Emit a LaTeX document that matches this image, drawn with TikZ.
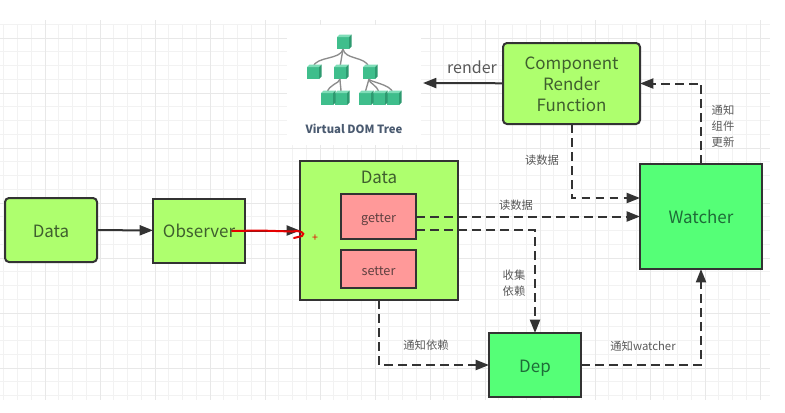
\documentclass[tikz,border=0pt]{standalone}
\usepackage{fontspec}
\setmainfont{Noto Sans CJK SC}
\usetikzlibrary{arrows.meta}
\definecolor{limebox}{HTML}{AEFF6E}
\definecolor{mintbox}{HTML}{55FF77}
\definecolor{pinkbox}{HTML}{FF9999}
\definecolor{edgeline}{HTML}{333333}
\definecolor{limetext}{HTML}{3F5F2E}
\definecolor{minttext}{HTML}{1E6B38}
\definecolor{pinktext}{HTML}{5F4040}
\definecolor{treetext}{HTML}{4A5A70}
\definecolor{cubefront}{HTML}{3FBE8C}
\definecolor{cubetop}{HTML}{7FDDB8}
\definecolor{cubeside}{HTML}{2E9A70}
\def\px{0.75pt}
\newcommand\dn[1]{\raisebox{0pt}[\dimexpr\height+4.5pt\relax][\depth]{\begin{tabular}{@{}c@{}}#1\end{tabular}}}
\tikzset{
    box/.style={draw=edgeline,line width=1.5pt,inner sep=0pt,outer sep=0pt,align=center},
    bigtext/.style={font=\fontsize{12.7}{15.75}\selectfont},
    smalltext/.style={font=\fontsize{9.5}{12}\selectfont},
    note/.style={text=black!65,inner sep=0pt,align=center,font=\fontsize{8.5}{12}\selectfont},
    flow/.style={draw=edgeline,line width=1.5pt,-{Triangle[length=10pt,width=7.5pt]}},
    dflow/.style={flow,dash pattern=on 6.5pt off 4pt},
    cube/.style={fill=cubefront,inner sep=0pt,outer sep=0pt,minimum size=12*\px},
    twig/.style={draw=black!45,line width=1pt}
}
\begin{document}
\begin{tikzpicture}[x=\px,y=-\px]
\useasboundingbox (0,0) rectangle (785,412);
% grid
\foreach \x in {3.75,17.5,...,770}{
    \draw[black!5,line width=0.6pt] (\x,24.25) -- (\x,400);}
\foreach \y in {24.25,38,...,400}{
    \draw[black!5,line width=0.6pt] (0,\y) -- (770,\y);}
\foreach \x in {45,100,...,760}{
    \draw[black!9,line width=0.7pt] (\x,20) -- (\x,400);}
\foreach \y in {38,93,...,368}{
    \draw[black!9,line width=0.7pt] (0,\y) -- (770,\y);}
\fill[white] (287,25) rectangle (421,145);

% tree
\foreach \name/\x/\y in {r/343/43,a/313/73,b/340/73,c/369/73,d/327/99,e/341/99,f/365/99,g/379/99,h/393/99}{
    \node[cube] (\name) at (\x,\y) {};}
\draw[twig] (r.south) .. controls (341,60) and (316,56) .. (a.north);
\draw[twig] (r.south) -- (b.north);
\draw[twig] (r.south) .. controls (345,60) and (365,56) .. (c.north);
\draw[twig] (b.south) .. controls (339,84) and (329,84) .. (d.north);
\draw[twig] (b.south) .. controls (340,84) and (341,86) .. (e.north);
\draw[twig] (c.south) -- (f.north);
\draw[twig] (c.south) .. controls (369,84) and (377,84) .. (g.north);
\draw[twig] (c.south) .. controls (369,82) and (391,84) .. (h.north);
\foreach \name in {r,a,b,c,d,e,f,g,h}{
    \fill[cubetop] (\name.north west) -- ++(2.5,-2.5) -- ++(12,0) -- (\name.north east) -- cycle;
    \fill[cubeside] (\name.north east) -- ++(2.5,-2.5) -- ++(0,12) -- (\name.south east) -- cycle;
}
\node[text=treetext,font=\fontsize{8.5}{10}\selectfont\bfseries] (T) at (354,129) {Virtual DOM Tree};
\coordinate (Tip) at (423,83);

% boxes
\node[box,bigtext,fill=limebox,text=limetext,rounded corners=3pt,minimum width=92*\px,minimum height=64*\px] (Raw) at (51,230) {\dn{Data}};
\node[box,bigtext,fill=limebox,text=limetext,minimum width=92*\px,minimum height=64*\px] (Obs) at (199,230.5) {\dn{Observer}};
\node[box,fill=limebox,minimum width=158*\px,minimum height=139*\px] (Dat) at (379,230.5) {};
\node[text=limetext,bigtext,inner sep=0pt] (L) at (379,177) {Data};
\node[box,smalltext,fill=pinkbox,text=pinktext,minimum width=75*\px,minimum height=45*\px] (Get) at (378.5,216.5) {\dn{getter}};
\node[box,smalltext,fill=pinkbox,text=pinktext,minimum width=75*\px,minimum height=38*\px] (Set) at (378.5,269) {\dn{setter}};
\node[box,bigtext,fill=limebox,text=limetext,rounded corners=3pt,minimum width=137*\px,minimum height=81*\px] (Ren) at (571.5,83.5) {\dn{Component\\Render\\Function}};
\node[box,bigtext,fill=mintbox,text=minttext,minimum width=122*\px,minimum height=105*\px] (Wat) at (701,216.5) {\dn{Watcher}};
\node[box,bigtext,fill=mintbox,text=minttext,minimum width=92*\px,minimum height=64*\px] (Dep) at (535,365) {\dn{Dep}};

% helper points
\coordinate (G1) at (416,230);
\coordinate (W1) at (640,198);

% connectors
\path[flow] (Raw) -- (Obs);
\path[flow] (Obs) -- (Dat.west |- Obs);
\path[flow] (Ren) -- (Tip);
\path[dflow] (Ren.south) |- (W1);
\path[dflow] (Wat.north) |- (Ren.east);
\path[dflow] (Get.east) -- (Wat.west);
\path[dflow] (G1) -| (Dep.north);
\path[dflow] (Dat.south) |- (Dep.west);
\path[dflow] (Dep.east) -| (Wat.south);

% labels
\node[inner sep=0pt,text=black!65,font=\fontsize{12}{14}\selectfont] (N1) at (472,67) {render};
\node[note] (N2) at (542,160.5) {读数据};
\node[note] (N3) at (516,205) {读数据};
\node[note] (N4) at (514,283) {收集\\依赖};
\node[note] (N5) at (426,345) {通知依赖};
\node[note] (N6) at (643,346) {通知watcher};
\node[note] (N7) at (723,126) {通知\\组件\\更新};

% red pen stroke
\draw[red!90!black,line width=1.5pt,line cap=round] (232,231) -- (260,230.5) -- (292,231.5) .. controls (300,230) and (306,233) .. (302,236) -- (294,238);
\node[red!90!black,inner sep=0pt,font=\fontsize{8}{8}\selectfont] (C) at (315,238) {+};
\end{tikzpicture}
\end{document}
